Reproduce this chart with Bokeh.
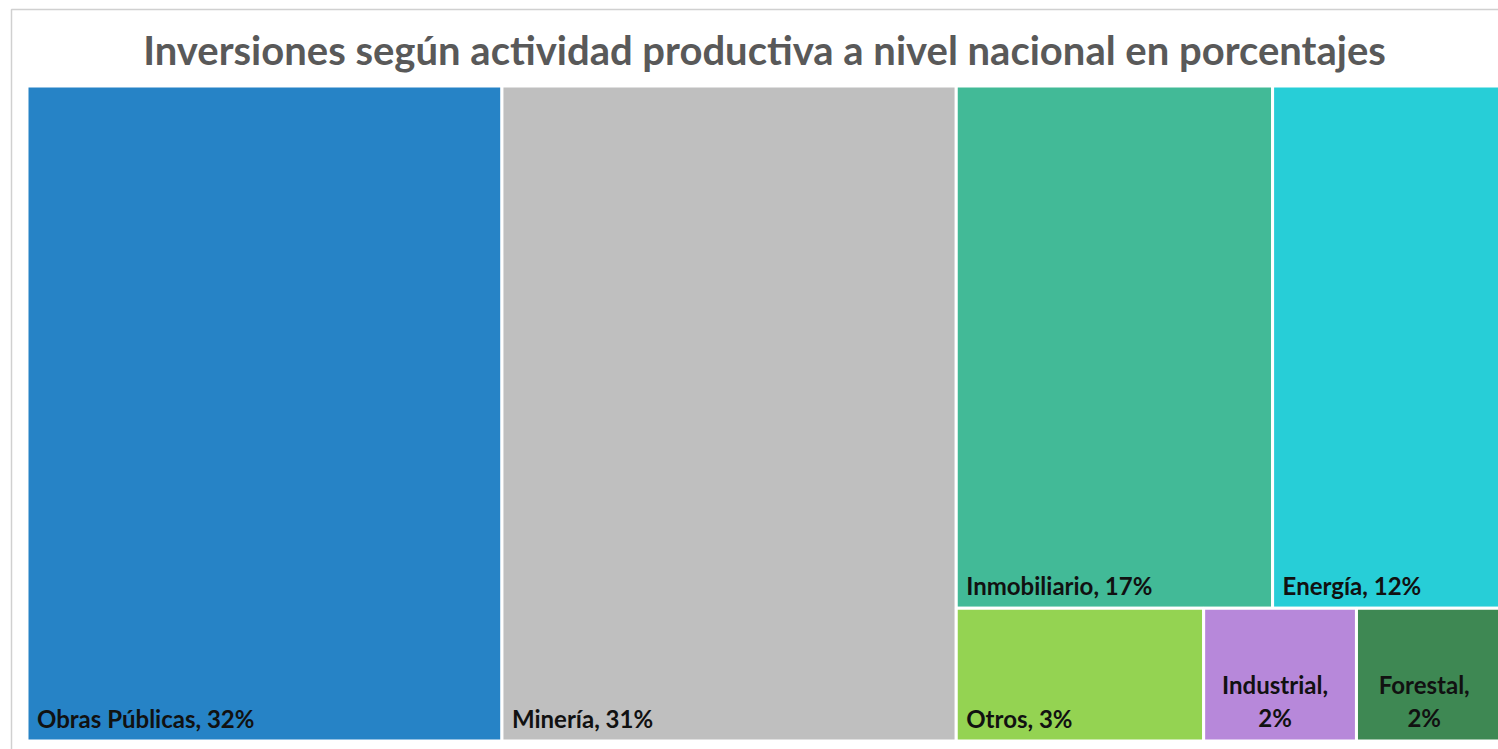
from bokeh.plotting import figure
from bokeh.models import Range1d, ColumnDataSource, Label
from bokeh.core.properties import value
from bokeh.embed import file_html
from bokeh.resources import INLINE

# ---- data ----
title = "Inversiones según actividad productiva a nivel nacional en porcentajes"
categories = ["Obras Públicas", "Minería", "Inmobiliario", "Energía", "Otros", "Industrial", "Forestal"]
shares = [32.2, 30.8, 17.1, 12.4, 3.4, 2.1, 2.0]
labels_pct = ["32%", "31%", "17%", "12%", "3%", "2%", "2%"]
colors = ["#2683C6", "#BFBFBF", "#42BA97", "#27CED7", "#94D352", "#B788DA", "#3E8853"]

# treemap structure (Excel-like): columns, the last one split in rows
structure = [[0], [1], [[2, 3], [4, 5, 6]]]

# ---- geometry of the page ----
W, H = 1498, 749
PX_W, PX_H = 1475.0, 655.0   # pixel size of the unit treemap
OFF_L, OFF_T = 26.5, 85.5    # treemap offset inside the frame

total = sum(shares)
left, right, bottom, top = [], [], [], []
rect = {}
x = 0.0
for col in structure:
    if isinstance(col[0], list):
        col_sum = sum(shares[i] for row in col for i in row)
        w = col_sum / total
        ytop = 1.0
        for row in col:
            row_sum = sum(shares[i] for i in row)
            h = row_sum / col_sum
            xx = x
            for i in row:
                ww = w * shares[i] / row_sum
                rect[i] = (xx, xx + ww, ytop - h, ytop)
                xx += ww
            ytop -= h
        x += w
    else:
        col_sum = sum(shares[i] for i in col)
        w = col_sum / total
        ytop = 1.0
        for i in col:
            h = shares[i] / col_sum
            rect[i] = (x, x + w, ytop - h, ytop)
            ytop -= h
        x += w

for i in range(len(categories)):
    l, r, b, t = rect[i]
    left.append(l); right.append(r); bottom.append(b); top.append(t)

src = ColumnDataSource(dict(left=left, right=right, bottom=bottom, top=top,
                            color=colors, name=categories))

p = figure(width=W, height=H, output_backend="svg", toolbar_location=None,
           x_range=Range1d(-OFF_L / PX_W, (W - OFF_L) / PX_W),
           y_range=Range1d(-(H - OFF_T - PX_H) / PX_H, 1 + OFF_T / PX_H),
           min_border=0, min_border_left=0, min_border_right=0,
           min_border_top=0, min_border_bottom=0)
p.axis.visible = False
p.grid.visible = False
p.outline_line_color = None
p.background_fill_color = "white"

# chart border (left and top visible)
bx = (11 - OFF_L) / PX_W
by = 1 + (OFF_T - 9) / PX_H
p.line([bx, bx, 2.0], [-1.0, by, by], line_color="#D0D0D0", line_width=1.5)

p.quad(left="left", right="right", bottom="bottom", top="top", source=src,
       fill_color="color", line_color="white", line_width=3)

# labels
FS = 24
single = dict(x=[], y=[], text=[])
wrapped = dict(x=[], y=[], text=[])
for i, name in enumerate(categories):
    l, r, b, t = rect[i]
    txt = f"{name}, {labels_pct[i]}"
    est = len(txt) * 0.5 * FS
    if est > (r - l) * PX_W - 20:
        wrapped["x"].append((l + r) / 2)
        wrapped["y"].append(b)
        wrapped["text"].append(f"{name},\n{labels_pct[i]}")
    else:
        single["x"].append(l)
        single["y"].append(b)
        single["text"].append(txt)

p.text(x="x", y="y", text="text", source=ColumnDataSource(single),
       text_font=value("Lato"), text_font_style="bold", text_font_size=f"{FS}px",
       text_color="#111111", text_align="left", text_baseline="alphabetic",
       x_offset=10, y_offset=-23)
p.text(x="x", y="y", text="text", source=ColumnDataSource(wrapped),
       text_font=value("Lato"), text_font_style="bold", text_font_size=f"{FS}px",
       text_color="#111111", text_align="center", text_baseline="bottom",
       text_line_height=1.15, x_offset=-5, y_offset=-9)

p.add_layout(Label(x=(764 - OFF_L) / PX_W, y=1 + (OFF_T - 49) / PX_H, text=title,
                   text_font="Lato", text_font_style="bold", text_font_size="40px",
                   text_color="#595959", text_align="center", text_baseline="middle"))

open("out.html", "w").write(file_html(p, INLINE))
